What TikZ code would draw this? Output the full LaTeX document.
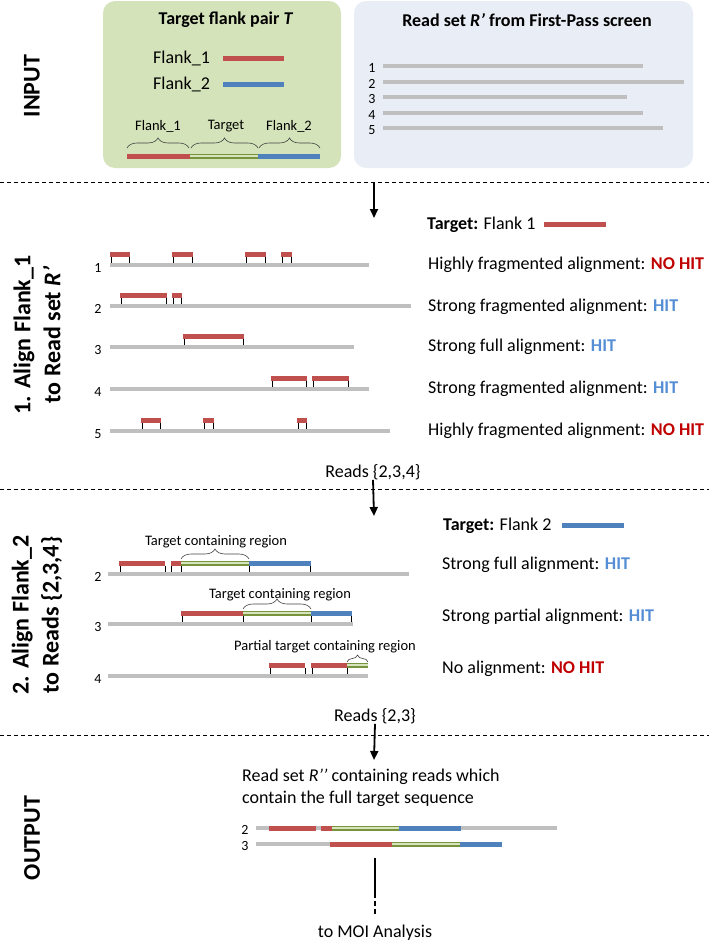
\documentclass[tikz,border=0pt]{standalone}
\usepackage{fontspec}
\setmainfont{Carlito}
\usetikzlibrary{arrows.meta, decorations.pathreplacing}

\definecolor{flankred}{RGB}{192,80,77}
\definecolor{flankblue}{RGB}{79,129,189}
\definecolor{tgtdark}{RGB}{119,147,60}
\definecolor{tgtlight}{RGB}{215,228,189}
\definecolor{readgray}{RGB}{191,191,191}
\definecolor{inputgreen}{RGB}{213,227,187}
\definecolor{inputblue}{RGB}{233,237,245}
\definecolor{hitblue}{RGB}{85,142,213}
\definecolor{nohitred}{RGB}{192,0,0}

\tikzset{
  readline/.style={readgray, line width=4pt},
  flank1/.style={flankred, line width=5pt},
  flank2/.style={flankblue, line width=5pt},
  tgtbar/.style={draw=tgtdark, double=tgtlight, double distance=2pt, line width=1.5pt},
  tickmark/.style={black, line width=0.9pt},
  sepline/.style={dash pattern=on 4pt off 3pt, line width=0.9pt},
  flow/.style={-{Triangle[length=9pt,width=8pt]}, line width=1.8pt},
  brc/.style={decorate, decoration={brace, amplitude=10pt}, line width=0.6pt, black!75},
  stage/.style={rotate=90, align=center, inner sep=0, font=\bfseries\fontsize{24}{30}\selectfont},
  txt/.style={inner sep=0, font=\fontsize{18}{22}\selectfont},
  btxt/.style={inner sep=0, font=\bfseries\fontsize{18}{22}\selectfont},
  lbl/.style={inner sep=0, font=\fontsize{14.5}{17}\selectfont},
  readno/.style={inner sep=0, font=\fontsize{14}{16}\selectfont}
}

\newcommand{\hit}{{\bfseries\color{hitblue}HIT}}
\newcommand{\nohit}{{\bfseries\color{nohitred}NO HIT}}

\begin{document}
\begin{tikzpicture}[x=1pt, y=-1pt]
  \useasboundingbox (0,0) rectangle (709,943);

  % --- INPUT ---
  \fill[inputgreen, rounded corners=12pt] (103,1) rectangle (341,168);
  \fill[inputblue, rounded corners=12pt] (354,1) rectangle (693,168);

  \node[btxt] (pairT) at (226,20) {Target flank pair \textit{T}};
  \node[txt, anchor=west] (fl1) at (153,58) {Flank\_1};
  \node[txt, anchor=west] (fl2) at (153,84) {Flank\_2};
  \draw[flank1] (223,58) -- (284,58);
  \draw[flank2] (223,84) -- (284,84);

  % flank / target / flank
  \draw[flank1] (127,156) -- (190,156);
  \draw[tgtbar] (190,156) -- (258,156);
  \draw[flank2] (258,156) -- (320,156);
  \draw[brc] (127,148) -- (189,148);
  \draw[brc] (191,148) -- (258,148);
  \draw[brc] (259,148) -- (320,148);
  \node[lbl] (bl1) at (158,126) {Flank\_1};
  \node[lbl] (blT) at (226,126) {Target};
  \node[lbl] (bl2) at (289,126) {Flank\_2};

  \node[btxt] (rsetR) at (527,20) {Read set \textit{R’} from First-Pass screen};
  \foreach \n/\yy/\xe in {1/66/643, 2/82/684, 3/97/627, 4/113/643, 5/128/663} {
    \draw[readline] (383,\yy) -- (\xe,\yy);
    \node[readno] (rs\n) at (372,\yy+2) {\n};
  }

  % --- stage labels ---
  \node[stage] (stIn) at (32,86) {INPUT};
  \node[stage] (stOne) at (37,335) {1. Align Flank\_1\\to Read set \textit{R’}};
  \node[stage] (stTwo) at (37,615) {2. Align Flank\_2\\to Reads \{2,3,4\}};
  \node[stage] (stOut) at (32,838) {OUTPUT};

  % separators
  \draw[sepline] (0,182) -- (709,182);
  \draw[sepline] (0,489) -- (709,489);
  \draw[sepline] (0,735) -- (709,735);

  % --- 1. Flank_1 against R' ---
  \coordinate (topA) at (374,182);
  \coordinate (oneA) at (374,218);
  \draw[flow] (topA) -- (oneA);

  \node[btxt, anchor=west] (tgt1) at (427,225) {Target: \mdseries Flank 1};
  \draw[flank1] (544,224) -- (606,224);

  \foreach \n/\yy/\xe in {1/265/369, 2/306/411, 3/347/354, 4/389/369, 5/431/390} {
    \draw[readline] (110,\yy) -- (\xe,\yy);
    \node[readno] (one\n) at (98,\yy+3) {\n};
  }
  \foreach \yy/\xa/\xb in {265/110/130, 265/172/193, 265/245/266, 265/281/292,
                           306/120/167, 306/172/182,
                           347/183/244,
                           389/271/307, 389/312/349,
                           431/141/161, 431/203/214, 431/297/307} {
    \draw[flank1] (\xa,\yy-11) -- (\xb,\yy-11);
    \draw[tickmark] (\xa+1,\yy-8.5) -- (\xa+1,\yy-2);
    \draw[tickmark] (\xb-1,\yy-8.5) -- (\xb-1,\yy-2);
  }

  \node[txt, anchor=west] (res11) at (428,265) {Highly fragmented alignment: \nohit};
  \node[txt, anchor=west] (res12) at (428,307) {Strong fragmented alignment: \hit};
  \node[txt, anchor=west] (res13) at (428,347) {Strong full alignment: \hit};
  \node[txt, anchor=west] (res14) at (428,389) {Strong fragmented alignment: \hit};
  \node[txt, anchor=west] (res15) at (428,431) {Highly fragmented alignment: \nohit};

  \node[txt] (reads234) at (373,472) {Reads \{2,3,4\}};
  \coordinate (twoA) at (374,516);
  \draw[flow] (reads234.south) -- (twoA);

  % --- 2. Flank_2 against reads {2,3,4} ---
  \node[btxt, anchor=west] (tgt2) at (443,526) {Target: \mdseries Flank 2};
  \draw[flank2] (562,525) -- (624,525);

  \foreach \n/\yy/\xe in {2/574/409, 3/624/353, 4/676/368} {
    \draw[readline] (108,\yy) -- (\xe,\yy);
    \node[readno] (two\n) at (98,\yy+3) {\n};
  }
  % read 2
  \draw[flank1] (119,563) -- (165,563);
  \draw[flank1] (171,563) -- (181,563);
  \draw[tgtbar] (181,563) -- (249,563);
  \draw[flank2] (249,563) -- (311,563);
  \foreach \xt in {120,165,171,181,249,310}
    \draw[tickmark] (\xt,565.5) -- (\xt,572);
  \draw[brc] (181,559) -- (249,559);
  \node[lbl] (reg2) at (216,542) {Target containing region};
  % read 3
  \draw[flank1] (181,613) -- (243,613);
  \draw[tgtbar] (243,613) -- (311,613);
  \draw[flank2] (311,613) -- (352,613);
  \foreach \xt in {182,243,311,351}
    \draw[tickmark] (\xt,615.5) -- (\xt,622);
  \draw[brc] (243,609) -- (311,609);
  \node[lbl] (reg3) at (280,595) {Target containing region};
  % read 4
  \draw[flank1] (269,665) -- (305,665);
  \draw[flank1] (311,665) -- (347,665);
  \draw[tgtbar] (347,665) -- (368,665);
  \foreach \xt in {270,305,312,347}
    \draw[tickmark] (\xt,667.5) -- (\xt,674);
  \draw[brc, decoration={brace, amplitude=7pt}] (347,662) -- (368,662);
  \node[lbl] (reg4) at (325,647) {Partial target containing region};

  \node[txt, anchor=west] (res22) at (442,565) {Strong full alignment: \hit};
  \node[txt, anchor=west] (res23) at (442,617) {Strong partial alignment: \hit};
  \node[txt, anchor=west] (res24) at (442,669) {No alignment: \nohit};

  \node[txt] (reads23) at (375,716) {Reads \{2,3\}};
  \coordinate (outA) at (374,760);
  \draw[flow] (reads23.south) -- (outA);

  % --- OUTPUT ---
  \node[txt, anchor=west, align=left] (rsetRR) at (242,788)
    {Read set \textit{R’’} containing reads which\\contain the full target sequence};

  \draw[readline] (256,828) -- (557,828);
  \draw[flank1] (269,828) -- (316,828);
  \draw[flank1] (321,828) -- (332,828);
  \draw[tgtbar] (332,828) -- (399,828);
  \draw[flank2] (399,828) -- (461,828);
  \node[readno] (out2) at (245,830) {2};

  \draw[readline] (256,844) -- (502,844);
  \draw[flank1] (330,844) -- (392,844);
  \draw[tgtbar] (392,844) -- (460,844);
  \draw[flank2] (460,844) -- (502,844);
  \node[readno] (out3) at (245,846) {3};

  \coordinate (moiA) at (375,858);
  \coordinate (moiB) at (375,893);
  \coordinate (moiC) at (375,916);
  \draw[line width=2pt] (moiA) -- (moiB);
  \draw[line width=2pt, dash pattern=on 5pt off 3pt] (moiB) -- (moiC);
  \node[txt] (moi) at (375,933) {to MOI Analysis};

\end{tikzpicture}
\end{document}
